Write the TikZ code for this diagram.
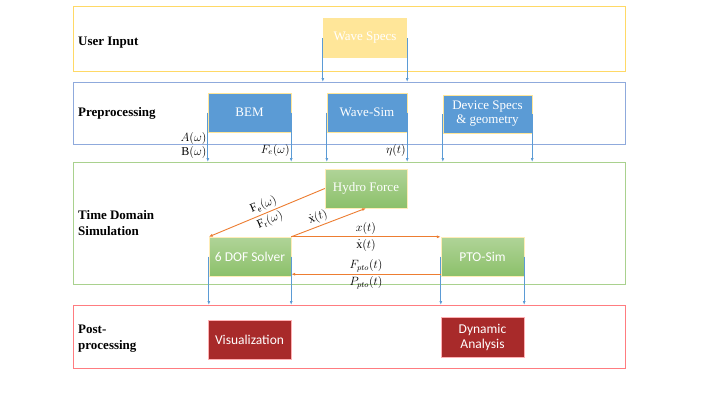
\documentclass[tikz,border=0pt]{standalone}
\usepackage{fontspec}
\setmainfont{Liberation Serif}
\setsansfont{Carlito}
\usetikzlibrary{arrows.meta}
\definecolor{userline}{RGB}{255,217,102}
\definecolor{userfill}{RGB}{255,230,153}
\definecolor{preline}{RGB}{143,170,220}
\definecolor{prefill}{RGB}{91,155,213}
\definecolor{simline}{RGB}{169,209,142}
\definecolor{simtop}{RGB}{176,212,152}
\definecolor{simbot}{RGB}{140,192,106}
\definecolor{postline}{RGB}{255,124,128}
\definecolor{postfill}{RGB}{168,42,42}
\definecolor{flowblue}{RGB}{91,155,213}
\definecolor{floworange}{RGB}{237,125,49}

\begin{document}
\begin{tikzpicture}[
  x=1pt, y=-1pt,
  >={Latex[length=4pt,width=3pt]},
  band/.style={draw, line width=1.1pt, fill=white, inner sep=0pt,
    minimum width=552pt, anchor=north west},
  bandlab/.style={font=\fontsize{13}{16}\selectfont\bfseries, anchor=west,
    align=left, inner sep=0pt},
  box/.style={text=white, inner sep=0pt, minimum width=83pt,
    minimum height=39pt, align=center, font=\fontsize{13}{14}\selectfont},
  sbox/.style={box, font=\sffamily\fontsize{13.5}{15}\selectfont},
  down/.style={draw=flowblue, line width=0.9pt, ->},
  force/.style={draw=floworange, line width=0.9pt, ->},
  lab/.style={font=\fontsize{12}{13}\selectfont, inner sep=1pt},
  flab/.style={lab, inner sep=2pt},
]

  % --- Bands ---
  \node[band, draw=userline, minimum height=65pt] (user) at (73,6) {};
  \node[band, draw=preline, minimum height=62pt] (pre) at (73,82) {};
  \node[band, draw=simline, minimum height=122pt] (tds) at (73,162) {};
  \node[band, draw=postline, minimum height=63pt] (post) at (73,305) {};

  \node[bandlab] (userlab) at (78,43) {User Input};
  \node[bandlab] (prelab) at (78,113) {Preprocessing};
  \node[bandlab] (tdslab) at (78,223) {Time Domain\\Simulation};
  \node[bandlab] (postlab) at (78,339) {Post-\\processing};

  % --- Boxes ---
  \node[box, fill=userfill, minimum width=84pt, minimum height=40pt]
    (wavespecs) at (365,38) {Wave Specs};

  \node[box, fill=prefill, draw=userfill, line width=0.4pt] (bem) at (249.5,112.5) {BEM};
  \node[box, fill=prefill, draw=userfill, line width=0.4pt, minimum width=80pt]
    (wavesim) at (367,112.5) {Wave-Sim};
  \node[box, fill=prefill, draw=userfill, line width=0.4pt, minimum width=89pt,
    minimum height=38pt] (device) at (487.5,114) {Device Specs\\\& geometry};

  \node[box, top color=simtop, bottom color=simbot, draw=userfill!70,
    line width=0.4pt, minimum width=82pt] (hydro) at (366,188.5) {Hydro Force};
  \node[sbox, top color=simtop, bottom color=simbot, draw=userfill!70,
    line width=0.4pt, minimum width=82pt] (dof) at (250,256.5) {6 DOF Solver};
  \node[sbox, top color=simtop, bottom color=simbot, draw=userfill!70,
    line width=0.4pt] (pto) at (482.5,256.5) {PTO-Sim};

  \node[sbox, fill=postfill, draw=postline!60, line width=0.4pt] (vis) at (249.5,339.5) {Visualization};
  \node[sbox, fill=postfill, draw=postline!60, line width=0.4pt, minimum height=40pt]
    (dyn) at (482.5,337) {Dynamic\\Analysis};

  % --- Data flow down ---
  \draw[down] (wavespecs.west) -- (wavespecs.west |- pre.north);
  \draw[down] (wavespecs.east) -- (wavespecs.east |- pre.north);

  \draw[down] (bem.west) -- (bem.west |- tds.north)
    node[lab, pos=0.52, left] {$A(\omega)$}
    node[lab, pos=0.81, left] {$\mathrm{B}(\omega)$};
  \draw[down] (bem.east) -- (bem.east |- tds.north)
    node[lab, pos=0.76, left] {$F_e(\omega)$};
  \draw[down] (wavesim.west) -- (wavesim.west |- tds.north);
  \draw[down] (wavesim.east) -- (wavesim.east |- tds.north)
    node[lab, pos=0.76, left] {$\eta(t)$};
  \draw[down] (device.west) -- (device.west |- tds.north);
  \draw[down] (device.east) -- (device.east |- tds.north);

  \draw[down] (dof.west) -- (dof.west |- post.north);
  \draw[down] (dof.east) -- (dof.east |- post.north);
  \draw[down] (pto.west) -- (pto.west |- post.north);
  \draw[down] (pto.east) -- (pto.east |- post.north);

  % --- Forces and states ---
  \draw[force] (hydro.west) -- (dof.north west)
    node[flab, midway, sloped, above] {$\mathrm{F_e}(\omega)$}
    node[flab, midway, sloped, below] {$\mathrm{F_r}(\omega)$};
  \draw[force] (dof.north east) -- (hydro.south)
    node[flab, pos=0.4, sloped, above] {$\dot{\mathrm{x}}(t)$};
  \draw[force] (dof.north east) -- (pto.north west)
    node[flab, midway, above] {$x(t)$}
    node[flab, midway, below] {$\dot{\mathrm{x}}(t)$};
  \draw[force] ([yshift=2pt]pto.south west) -- ([yshift=2pt]dof.south east)
    node[flab, midway, above] {$F_{pto}(t)$}
    node[flab, midway, below] {$P_{pto}(t)$};

  \path[use as bounding box] (0,0) rectangle (706,397);

\end{tikzpicture}
\end{document}
